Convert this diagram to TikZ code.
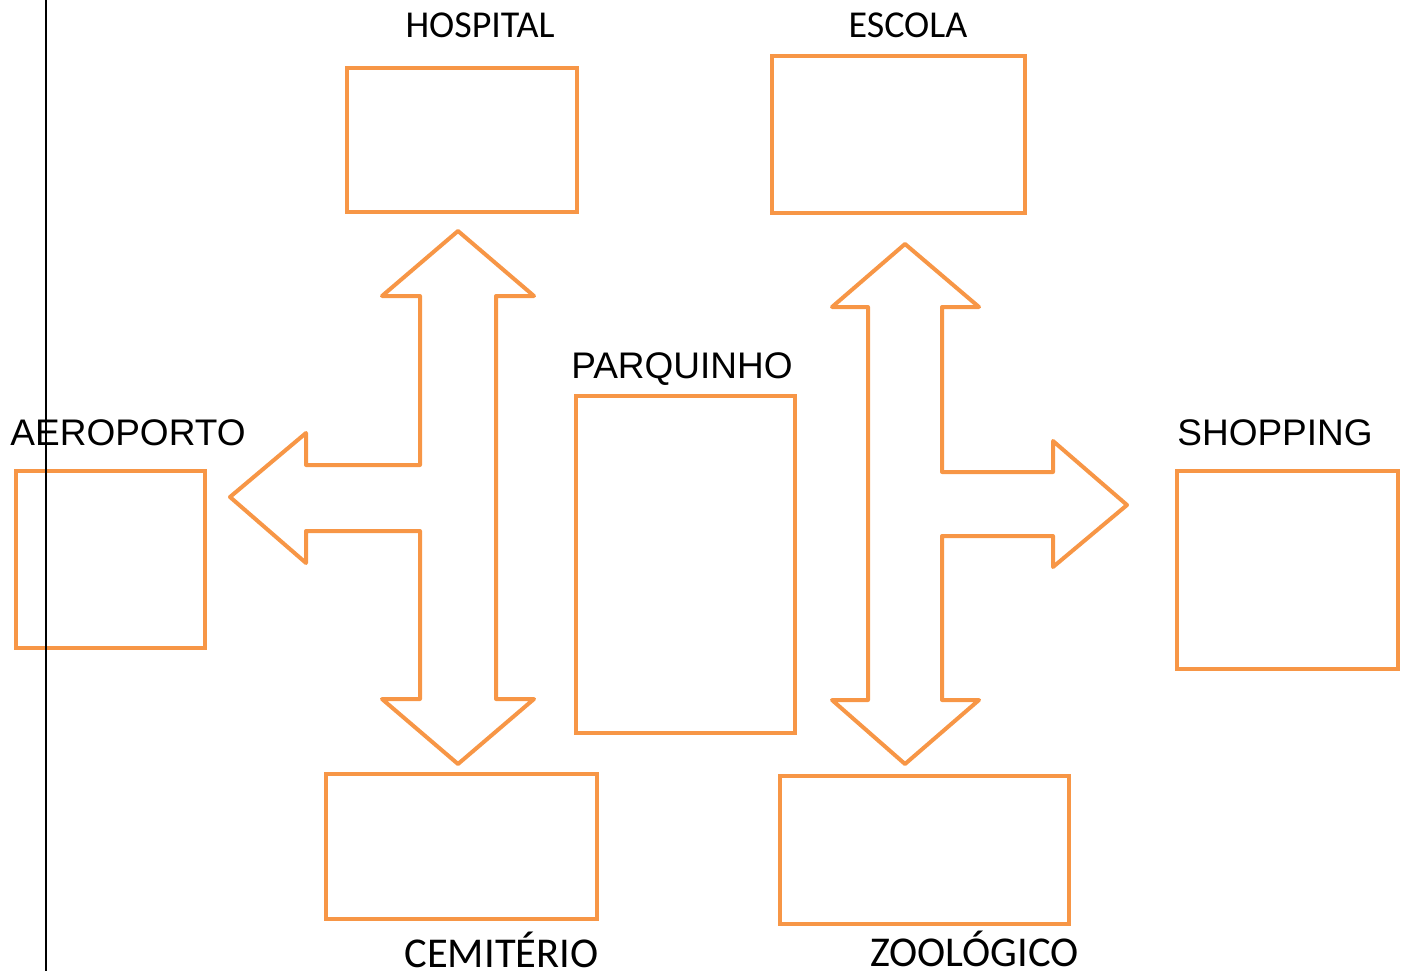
\documentclass[tikz,border=0pt]{standalone}
\usepackage{fontspec}
\setmainfont{Liberation Sans}
\newfontfamily\calibrifont{Carlito}
\definecolor{boxorange}{HTML}{F79646}

\begin{document}
\begin{tikzpicture}[x=1pt,y=-1pt,line join=round,line cap=round,
                    every node/.style={inner sep=0pt,font=\fontsize{37}{44}\selectfont}]
  \tikzstyle{place}=[draw=boxorange,line width=4pt,line join=miter]
  \tikzstyle{bigarrow}=[draw=boxorange,line width=4pt]
  \tikzstyle{placename}=[anchor=base,text=black]
  \tikzstyle{calibri}=[placename,font=\fontsize{38}{44}\selectfont\calibrifont]
  \tikzstyle{bigcalibri}=[placename,font=\fontsize{42.5}{48}\selectfont\calibrifont]

  \useasboundingbox (0,0) rectangle (1404,971);

  \node[place,minimum width=230pt,minimum height=144pt] (hospital)  at (462,140)    {};
  \node[place,minimum width=253pt,minimum height=157pt] (escola)    at (898.5,134.5) {};
  \node[place,minimum width=219pt,minimum height=337pt] (parquinho) at (685.5,564.5) {};
  \node[place,minimum width=189pt,minimum height=177pt] (aeroporto) at (110.5,559.5) {};
  \node[place,minimum width=221pt,minimum height=198pt] (shopping)  at (1287.5,570)  {};
  \node[place,minimum width=271pt,minimum height=145pt] (cemiterio) at (461.5,846.5) {};
  \node[place,minimum width=289pt,minimum height=148pt] (zoologico) at (924.5,850)  {};

  \node[calibri]    (thospital)  at (480,38)   {HOSPITAL};
  \node[calibri]    (tescola)    at (908,38)   {ESCOLA};
  \node[placename]  (tparquinho) at (682,378)  {PARQUINHO};
  \node[placename]  (taeroporto) at (128,445)  {AEROPORTO};
  \node[placename]  (tshopping)  at (1275,445) {SHOPPING};
  \node[bigcalibri] (tcemiterio) at (501.5,967) {CEMITÉRIO};
  \node[bigcalibri] (tzoologico) at (974.5,966) {ZOOLÓGICO};

  % left three-way arrow
  \draw[bigarrow] (458,231) -- (534,296) -- (496,296) -- (496,699) -- (534,699)
    -- (458,764) -- (382,699) -- (420,699) -- (420,531) -- (306,531) -- (306,563)
    -- (230,497) -- (306,433) -- (306,465) -- (420,465) -- (420,296) -- (382,296)
    -- cycle;

  % right three-way arrow
  \draw[bigarrow] (905,244) -- (979,307) -- (942,307) -- (942,472) -- (1053,472)
    -- (1053,441) -- (1127,505) -- (1053,567) -- (1053,536) -- (942,536)
    -- (942,700) -- (979,700) -- (905,764) -- (832,700) -- (868,700)
    -- (868,307) -- (832,307) -- cycle;

  \draw[line width=2pt,line cap=butt] (46,0) -- (46,971);
\end{tikzpicture}
\end{document}
